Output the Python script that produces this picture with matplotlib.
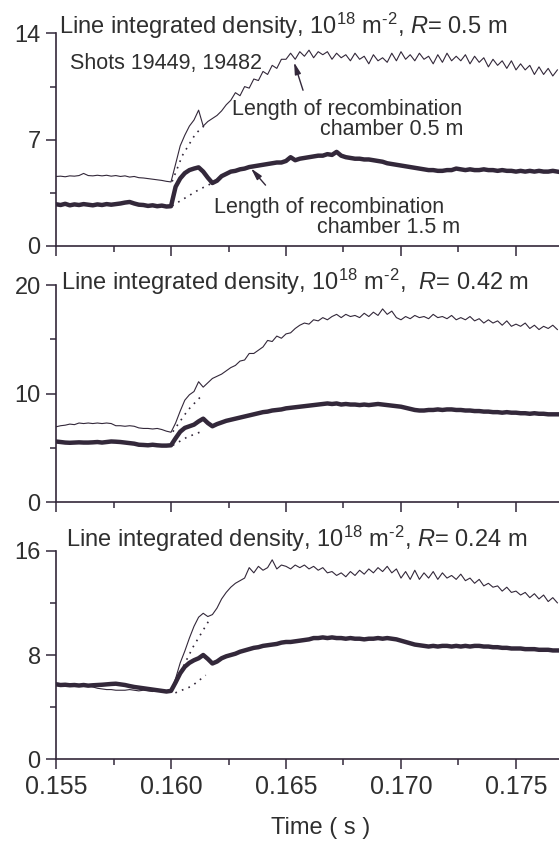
import numpy as np
import matplotlib
matplotlib.use("Agg")
import matplotlib.pyplot as plt
from matplotlib.ticker import FixedLocator

plt.rcParams["font.family"] = ["Liberation Sans", "DejaVu Sans"]
plt.rcParams["mathtext.fontset"] = "custom"
plt.rcParams["mathtext.rm"] = "Liberation Sans"
plt.rcParams["mathtext.it"] = "Liberation Sans:italic"

# sampling times (s) for the traces
TIME = np.linspace(0.155, 0.1768, 110)

# R = 0.5 m, shots 19449 / 19482
P1_THIN = [
    4.58, 4.60, 4.56, 4.62, 4.60, 4.64, 4.78, 4.64, 4.62, 4.66,
    4.62, 4.66, 4.60, 4.64, 4.58, 4.62, 4.54, 4.58, 4.50, 4.48,
    4.44, 4.40, 4.36, 4.32, 4.26, 4.22, 5.40, 6.60, 7.30, 7.90,
    8.30, 8.95, 7.90, 8.20, 8.40, 8.60, 8.90, 9.30, 9.60, 10.1,
    9.90, 10.5, 10.4, 11.0, 10.9, 11.5, 11.3, 11.9, 11.7, 12.3,
    12.3, 12.7, 12.3, 12.8, 12.5, 12.9, 12.4, 12.8, 12.6, 12.8,
    12.3, 12.7, 12.4, 12.6, 12.2, 12.7, 12.3, 12.5, 12.0, 12.6,
    12.2, 12.4, 12.1, 12.7, 12.2, 12.8, 12.3, 12.6, 12.2, 12.7,
    12.3, 12.5, 12.0, 12.6, 12.1, 12.7, 12.2, 12.5, 12.2, 12.6,
    12.0, 12.5, 12.1, 12.4, 11.8, 12.3, 11.9, 12.2, 11.7, 12.2,
    11.6, 12.0, 11.6, 11.9, 11.3, 11.8, 11.3, 11.7, 11.2, 11.6,
]
P1_THICK = [
    2.75, 2.70, 2.78, 2.68, 2.74, 2.70, 2.76, 2.72, 2.68, 2.74,
    2.70, 2.76, 2.72, 2.76, 2.80, 2.86, 2.90, 2.80, 2.72, 2.70,
    2.64, 2.68, 2.62, 2.66, 2.60, 2.62, 3.90, 4.45, 4.80, 5.00,
    5.10, 5.18, 4.90, 4.50, 4.15, 4.30, 4.60, 4.75, 4.90, 4.95,
    5.05, 5.10, 5.20, 5.25, 5.30, 5.35, 5.40, 5.45, 5.50, 5.50,
    5.60, 5.85, 5.65, 5.75, 5.80, 5.85, 5.90, 5.95, 5.95, 6.05,
    6.00, 6.20, 5.95, 5.85, 5.80, 5.75, 5.75, 5.70, 5.70, 5.65,
    5.60, 5.55, 5.45, 5.40, 5.35, 5.30, 5.25, 5.20, 5.15, 5.10,
    5.05, 5.00, 5.00, 4.95, 4.95, 5.00, 5.00, 5.10, 5.05, 5.00,
    5.05, 5.00, 5.00, 5.05, 5.00, 5.00, 4.95, 5.00, 4.95, 4.95,
    4.90, 4.95, 4.90, 4.95, 4.90, 4.95, 4.90, 4.90, 4.95, 4.90,
]

# R = 0.42 m
P2_THIN = [
    6.95, 7.05, 7.10, 7.20, 7.15, 7.30, 7.25, 7.30, 7.25, 7.30,
    7.25, 7.30, 7.25, 7.05, 7.05, 7.00, 7.05, 7.00, 6.85, 6.80,
    6.80, 6.75, 6.80, 6.70, 6.55, 6.45, 7.30, 8.40, 9.40, 9.90,
    10.2, 11.1, 10.6, 11.0, 11.4, 11.6, 11.8, 12.1, 12.4, 12.6,
    13.0, 13.1, 13.7, 13.7, 14.0, 14.3, 14.9, 14.8, 15.3, 15.1,
    15.5, 15.6, 16.0, 16.3, 16.5, 16.4, 16.8, 16.7, 17.0, 16.8,
    17.1, 17.3, 17.0, 17.3, 17.1, 17.2, 17.0, 17.4, 17.1, 17.5,
    17.2, 17.8, 17.3, 17.6, 17.0, 16.8, 17.1, 16.9, 17.2, 17.0,
    17.1, 16.9, 17.3, 17.0, 17.1, 16.9, 17.2, 16.8, 17.0, 16.8,
    17.1, 16.7, 16.9, 16.5, 16.8, 16.5, 16.7, 16.3, 16.7, 16.2,
    16.4, 16.2, 16.5, 16.0, 16.3, 15.9, 16.2, 16.0, 16.3, 15.9,
]
P2_THICK = [
    5.60, 5.55, 5.50, 5.48, 5.50, 5.52, 5.50, 5.50, 5.52, 5.55,
    5.50, 5.55, 5.60, 5.58, 5.55, 5.50, 5.45, 5.40, 5.30, 5.28,
    5.25, 5.30, 5.25, 5.22, 5.22, 5.25, 5.90, 6.50, 6.85, 7.00,
    7.15, 7.45, 7.70, 7.30, 7.00, 7.20, 7.35, 7.50, 7.60, 7.70,
    7.80, 7.90, 8.00, 8.10, 8.20, 8.30, 8.35, 8.45, 8.50, 8.55,
    8.65, 8.70, 8.75, 8.80, 8.85, 8.90, 8.95, 9.00, 9.05, 9.10,
    9.05, 9.10, 9.00, 9.05, 9.00, 9.00, 8.95, 9.00, 8.95, 9.00,
    9.05, 9.00, 8.95, 8.90, 8.85, 8.80, 8.70, 8.60, 8.50, 8.45,
    8.45, 8.50, 8.50, 8.55, 8.50, 8.55, 8.55, 8.50, 8.50, 8.45,
    8.45, 8.40, 8.40, 8.35, 8.35, 8.30, 8.30, 8.25, 8.30, 8.25,
    8.25, 8.20, 8.20, 8.15, 8.20, 8.15, 8.15, 8.10, 8.10, 8.10,
]

# R = 0.24 m
P3_THIN = [
    5.85, 5.80, 5.75, 5.80, 5.75, 5.70, 5.70, 5.65, 5.55, 5.45,
    5.40, 5.35, 5.35, 5.30, 5.30, 5.30, 5.35, 5.30, 5.25, 5.30,
    5.25, 5.20, 5.25, 5.20, 5.20, 5.25, 6.20, 7.40, 8.30, 9.30,
    10.2, 10.9, 11.2, 10.95, 11.1, 11.6, 12.3, 12.8, 13.2, 13.5,
    13.7, 13.9, 14.7, 14.3, 14.8, 14.5, 14.7, 15.3, 14.6, 14.9,
    14.8, 14.6, 14.9, 14.7, 14.9, 14.6, 14.8, 14.5, 14.7, 14.3,
    14.4, 14.1, 14.3, 14.0, 14.4, 14.1, 14.5, 14.2, 14.6, 14.3,
    14.7, 14.4, 14.8, 14.3, 14.6, 13.9, 14.4, 13.8, 14.5, 13.8,
    14.3, 13.9, 14.4, 13.8, 14.3, 13.9, 14.1, 13.8, 14.2, 13.7,
    13.9, 13.5, 13.8, 13.3, 13.5, 13.2, 13.3, 12.9, 13.2, 12.8,
    12.9, 12.6, 12.8, 12.4, 12.7, 12.3, 12.6, 12.1, 12.4, 12.0,
]
P3_THICK = [
    5.75, 5.70, 5.72, 5.68, 5.70, 5.66, 5.70, 5.65, 5.68, 5.70,
    5.72, 5.75, 5.78, 5.80, 5.75, 5.70, 5.62, 5.55, 5.50, 5.45,
    5.40, 5.35, 5.30, 5.25, 5.20, 5.25, 5.90, 6.60, 7.10, 7.40,
    7.60, 7.75, 8.00, 7.70, 7.35, 7.50, 7.75, 7.90, 8.00, 8.10,
    8.25, 8.35, 8.45, 8.55, 8.60, 8.70, 8.75, 8.80, 8.85, 8.95,
    9.00, 9.00, 9.05, 9.10, 9.15, 9.20, 9.30, 9.30, 9.35, 9.30,
    9.35, 9.30, 9.30, 9.25, 9.30, 9.25, 9.25, 9.20, 9.25, 9.25,
    9.30, 9.25, 9.30, 9.25, 9.20, 9.10, 9.00, 8.90, 8.80, 8.75,
    8.70, 8.65, 8.70, 8.65, 8.70, 8.70, 8.65, 8.70, 8.65, 8.70,
    8.65, 8.70, 8.70, 8.65, 8.65, 8.60, 8.60, 8.55, 8.55, 8.50,
    8.50, 8.50, 8.45, 8.45, 8.45, 8.40, 8.40, 8.40, 8.35, 8.35,
]

# dotted extrapolations right after the switch-on (t, value)
P1_DOT_THIN = ([0.16005, 0.16049, 0.16107, 0.16143], [4.25, 5.95, 7.40, 7.90])
P1_DOT_THICK = ([0.16005, 0.16060, 0.16120, 0.16180], [2.65, 3.15, 3.70, 4.15])
P2_DOT_THIN = ([0.16008, 0.16074, 0.16128], [6.50, 8.50, 9.70])
P2_DOT_THICK = ([0.16008, 0.16070, 0.16143], [5.25, 6.00, 6.60])
P3_DOT_THIN = ([0.16027, 0.16097, 0.16167], [6.20, 8.65, 10.70])
P3_DOT_THICK = ([0.16019, 0.16089, 0.16151], [5.10, 5.60, 6.45])

RADII = ["0.5", "0.42", "0.24"]
Y_MAJOR = [[0, 7, 14], [0, 10, 20], [0, 8, 16]]
Y_MINOR = [[3.5, 10.5], [5, 15], [4, 12]]
X_MAJOR = [0.155, 0.160, 0.165, 0.170, 0.175]
X_MINOR = [0.1575, 0.1625, 0.1675, 0.1725, 0.1775]

INK = "#33283a"
TXT = "#2f2f2f"

fig = plt.figure(figsize=(5.59, 8.41), dpi=100)
boxes = [(0.1002, 0.7075, 0.8998, 0.2527),
         (0.1002, 0.4027, 0.8998, 0.2584),
         (0.1002, 0.0971, 0.8998, 0.2481)]
thin = [P1_THIN, P2_THIN, P3_THIN]
thick = [P1_THICK, P2_THICK, P3_THICK]
dots = [(P1_DOT_THIN, P1_DOT_THICK), (P2_DOT_THIN, P2_DOT_THICK),
        (P3_DOT_THIN, P3_DOT_THICK)]
title_pos = [(0.006, 1.0), (0.009, 0.978), (0.02, 1.018)]
sep = [" ", "  ", " "]

axes = []
for k in range(3):
    ax = fig.add_axes(boxes[k])
    axes.append(ax)
    ax.plot(TIME, thin[k], color=INK, lw=0.8)
    ax.plot(TIME, thick[k], color=INK, lw=3.2, solid_joinstyle="round")
    for t, v in dots[k]:
        ax.plot(t, v, color=INK, lw=1.2, ls=(0, (1, 3.2)))

    ax.set_xlim(0.155, 0.17687)
    ax.set_ylim(0, Y_MAJOR[k][-1])
    for s in ("top", "right"):
        ax.spines[s].set_visible(False)
    for s in ("left", "bottom"):
        ax.spines[s].set_color(INK)
        ax.spines[s].set_linewidth(1.2)
    ax.xaxis.set_major_locator(FixedLocator(X_MAJOR))
    ax.xaxis.set_minor_locator(FixedLocator(X_MINOR))
    ax.yaxis.set_major_locator(FixedLocator(Y_MAJOR[k]))
    ax.yaxis.set_minor_locator(FixedLocator(Y_MINOR[k]))
    ax.tick_params(which="major", direction="out", length=7, width=1.1,
                   color=INK, labelcolor=TXT, pad=4)
    ax.tick_params(which="minor", direction="out", length=4, width=1.1, color=INK)
    ax.tick_params(axis="y", labelsize=17)
    ax.tick_params(axis="x", labelsize=18)
    if k < 2:
        ax.tick_params(axis="x", labelbottom=False)
    else:
        ax.set_xticklabels(["%.3f" % x for x in X_MAJOR])

    tx, ty = title_pos[k]
    ax.text(tx, ty, r"Line integrated density, 10$^{18}$ m$^{\text{-}2}$," + sep[k]
            + r"$R$= " + RADII[k] + " m",
            transform=ax.transAxes, fontsize=17, color=TXT,
            ha="left", va="baseline")

ax = axes[0]
ax.text(0.028, 0.833, "Shots 19449, 19482", transform=ax.transAxes,
        fontsize=15.5, color=TXT, ha="left", va="baseline")
ax.text(0.8066, 0.616, "Length of recombination", transform=ax.transAxes,
        fontsize=15.5, color=TXT, ha="right", va="baseline")
ax.text(0.810, 0.522, "chamber 0.5 m", transform=ax.transAxes,
        fontsize=15.5, color=TXT, ha="right", va="baseline")
ax.text(0.314, 0.155, "Length of recombination", transform=ax.transAxes,
        fontsize=15.5, color=TXT, ha="left", va="baseline")
ax.text(0.519, 0.060, "chamber 1.5 m", transform=ax.transAxes,
        fontsize=15.5, color=TXT, ha="left", va="baseline")
arrow = dict(arrowstyle="-|>,head_length=0.7,head_width=0.18", color=INK, lw=1.0,
             shrinkA=0, shrinkB=0)
ax.annotate("", xy=(0.16535, 12.1), xytext=(0.16574, 10.26), arrowprops=arrow)
ax.annotate("", xy=(0.16348, 5.11), xytext=(0.16411, 4.01), arrowprops=arrow)

fig.text(321 / 559, 1 - 828 / 841, "Time ( s )", fontsize=17, color=TXT,
         ha="center", va="center")

fig.savefig("out.png", dpi=100)
